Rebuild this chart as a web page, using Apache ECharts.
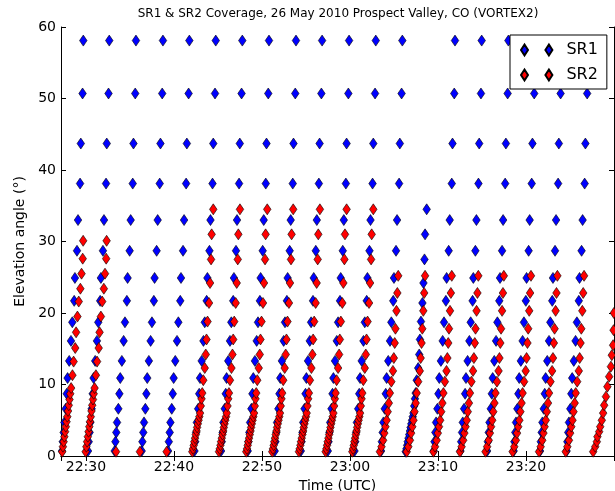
<!DOCTYPE html>
<html><head><meta charset="utf-8">
<script src="https://cdn.jsdelivr.net/npm/echarts@6/dist/echarts.min.js"></script>
<style>html,body{margin:0;padding:0;background:#fff}#c{width:615px;height:491px}</style>
</head><body><div id="c"></div>
<script>
// ---------------- data ----------------
const chartTitle = 'SR1 & SR2 Coverage, 26 May 2010 Prospect Valley, CO (VORTEX2)';
const seriesNames = ['SR1', 'SR2'];
const xTickLabels = ['22:30', '22:40', '22:50', '23:00', '23:10', '23:20'];
const yTickValues = [0, 10, 20, 30, 40, 50, 60];

// scan strategies: elevation angles (deg) and time offsets within a volume (s)
const elev58 = [0.7, 2.0, 3.3, 4.7, 6.6, 8.7, 10.9, 13.3, 16.1, 18.7, 21.7, 24.9, 28.7, 33.0, 38.1, 43.7, 50.7, 58.1];
const offs58 = [0, 5, 11, 16, 25, 32, 38, 49, 61, 70, 83, 88, 102, 109, 123, 128, 140, 145];

const elev34 = [0.6, 1.0, 1.5, 2.0, 2.5, 3.0, 3.5, 4.0, 4.5, 5.0, 5.5, 6.0, 7.0, 8.0, 8.8, 10.6, 12.3, 14.2, 16.3, 18.8, 21.4, 24.2, 27.5, 31.0, 34.5];
const offs34 = [0, 5, 10, 14, 19, 24, 29, 33, 38, 43, 48, 53, 58, 63, 68, 75, 85, 92, 97, 104, 114, 121, 128, 132, 143];

const elev30 = [0.6, 1.3, 2.0, 2.7, 3.4, 4.1, 4.8, 5.5, 6.3, 7.1, 7.9, 8.7, 9.5, 11.3, 13.2, 15.1, 17.3, 19.5, 21.6, 23.4, 25.5, 27.6, 30.1];
const offs30 = [0, 5, 10, 15, 20, 25, 30, 35, 40, 45, 50, 55, 61, 70, 78, 89, 95, 104, 113, 124, 132, 140, 143];

const elev25 = [0.6, 1.3, 2.2, 3.2, 4.1, 5.0, 6.2, 7.4, 8.8, 10.4, 11.9, 13.7, 15.8, 17.8, 20.3, 22.8, 25.2];
const offs25 = [0, 11, 22, 30, 38, 46, 53, 61, 68, 78, 89, 95, 101, 106, 113, 119, 125];

const elev20 = [0.6, 1.3, 2.0, 2.7, 3.4, 4.1, 5.0, 6.0, 7.1, 8.3, 9.7, 11.1, 12.5, 14.1, 15.5, 17.6, 20.0];
const offs20 = [0, 14, 25, 29, 41, 48, 59, 68, 75, 87, 97, 109, 121, 127, 136, 139, 141];

const elevSur = [0.6];
const offsSur = [0];

// volume start times (UTC)
const sr1Starts58 = ['22:27:17', '22:30:14', '22:33:16', '22:36:20', '22:39:20', '22:42:20', '22:45:21',
  '22:48:23', '22:51:27', '22:54:25', '22:57:29', '23:00:31', '23:03:32', '23:09:31', '23:12:33',
  '23:15:35', '23:18:36', '23:21:36', '23:24:37'];
const sr1Starts34 = ['23:06:20'];

const sr2Starts30 = ['22:27:18', '22:29:58'];
const sr2StartsSur = ['22:33:25', '22:36:08', '22:39:10'];
const sr2Starts34 = ['22:42:05', '22:45:07', '22:48:13', '22:51:10', '22:54:12', '22:57:14', '23:00:16'];
const sr2Starts25 = ['23:03:24', '23:06:27', '23:09:29', '23:12:30', '23:15:24', '23:18:29', '23:21:29', '23:24:31'];
const sr2Starts20 = ['23:27:38'];

const xMinTime = '22:27:10';
const xMaxTime = '23:30:00';

// ---------------- build ----------------
function toMin(s) { const p = s.split(':').map(Number); return p[0] * 60 + p[1] + (p[2] || 0) / 60; }
function build(starts, elev, offs) {
  const pts = [];
  starts.forEach(s => { const t0 = toMin(s); elev.forEach((e, i) => pts.push([t0 + offs[i] / 60, e])); });
  return pts;
}
const sr1Data = build(sr1Starts58, elev58, offs58).concat(build(sr1Starts34, elev34, offs34));
const sr2Data = build(sr2Starts30, elev30, offs30)
  .concat(build(sr2StartsSur, elevSur, offsSur))
  .concat(build(sr2Starts34, elev34, offs34))
  .concat(build(sr2Starts25, elev25, offs25))
  .concat(build(sr2Starts20, elev20, offs20));

function fmtTime(v) {
  const r = Math.round(v);
  if (Math.abs(v - r) > 1e-6 || r % 10 !== 0) return '';
  const lab = String(Math.floor(r / 60)).padStart(2, '0') + ':' + String(r % 60).padStart(2, '0');
  return xTickLabels.indexOf(lab) >= 0 ? lab : '';
}

const FONT = 'DejaVu Sans';
const xMin = toMin(xMinTime), xMax = toMin(xMaxTime);
const yMin = yTickValues[0], yMax = yTickValues[yTickValues.length - 1];
const axisLineStyle = { color: '#000', width: 1 };
const tickStyle = { show: true, inside: true, length: 5, lineStyle: { color: '#000', width: 1 } };

const diamondPair = 'path://M3.5,0L7,5.5L3.5,11L0,5.5ZM27.9,0L31.4,5.5L27.9,11L24.4,5.5Z';

const chart = echarts.init(document.getElementById('c'), null, { renderer: 'canvas' });
chart.setOption({
  animation: false,
  backgroundColor: '#fff',
  textStyle: { fontFamily: FONT },
  title: {
    text: chartTitle, left: 338, top: 8, padding: 0, textAlign: 'center',
    textStyle: { fontFamily: FONT, fontSize: 12, fontWeight: 'normal', color: '#000' }
  },
  grid: { left: 61, top: 27, width: 553, height: 429, show: false, containLabel: false, outerBoundsMode: 'none' },
  legend: {
    data: seriesNames, orient: 'vertical', left: 510, top: 35,
    padding: [7, 9, 6, 10], itemGap: 9, itemWidth: 31.4, itemHeight: 11,
    icon: diamondPair, selectedMode: false,
    borderColor: '#000', borderWidth: 1, backgroundColor: '#fff',
    textStyle: { fontFamily: FONT, fontSize: 16, color: '#000', padding: [0, 0, 0, 9] }
  },
  xAxis: [{
    type: 'value', min: xMin, max: xMax, minInterval: 10, maxInterval: 10,
    name: 'Time (UTC)', nameLocation: 'middle', nameGap: 20,
    nameTextStyle: { fontFamily: FONT, fontSize: 14, color: '#000' },
    axisLine: { show: true, lineStyle: axisLineStyle }, axisTick: tickStyle,
    axisLabel: { formatter: fmtTime, margin: 4, fontFamily: FONT, fontSize: 14, color: '#000', showMinLabel: false, showMaxLabel: false },
    splitLine: { show: false }
  }, {
    type: 'value', position: 'top', min: xMin, max: xMax, minInterval: 10, maxInterval: 10,
    axisLine: { show: true, lineStyle: axisLineStyle }, axisTick: tickStyle,
    axisLabel: { show: false }, splitLine: { show: false }
  }],
  yAxis: [{
    type: 'value', min: yMin, max: yMax, interval: 10,
    name: 'Elevation angle (°)', nameLocation: 'middle', nameGap: 33, nameRotate: 90,
    nameTextStyle: { fontFamily: FONT, fontSize: 14, color: '#000' },
    axisLine: { show: true, lineStyle: axisLineStyle }, axisTick: tickStyle,
    axisLabel: { margin: 5, fontFamily: FONT, fontSize: 14, color: '#000' },
    splitLine: { show: false }
  }, {
    type: 'value', position: 'right', min: yMin, max: yMax, interval: 10,
    axisLine: { show: true, lineStyle: axisLineStyle }, axisTick: tickStyle,
    axisLabel: { show: false }, splitLine: { show: false }
  }],
  series: [{
    name: seriesNames[0], type: 'scatter', xAxisIndex: 0, yAxisIndex: 0,
    symbol: 'diamond', symbolSize: [7.5, 11], data: sr1Data,
    itemStyle: { color: '#0000ff', borderColor: '#000', borderWidth: 0.6, opacity: 1 },
    emphasis: { disabled: true }, z: 2
  }, {
    name: seriesNames[1], type: 'scatter', xAxisIndex: 0, yAxisIndex: 0,
    symbol: 'diamond', symbolSize: [7.5, 11], data: sr2Data,
    itemStyle: { color: '#ff0000', borderColor: '#000', borderWidth: 0.6, opacity: 1 },
    emphasis: { disabled: true }, z: 3
  }]
});
</script></body></html>
